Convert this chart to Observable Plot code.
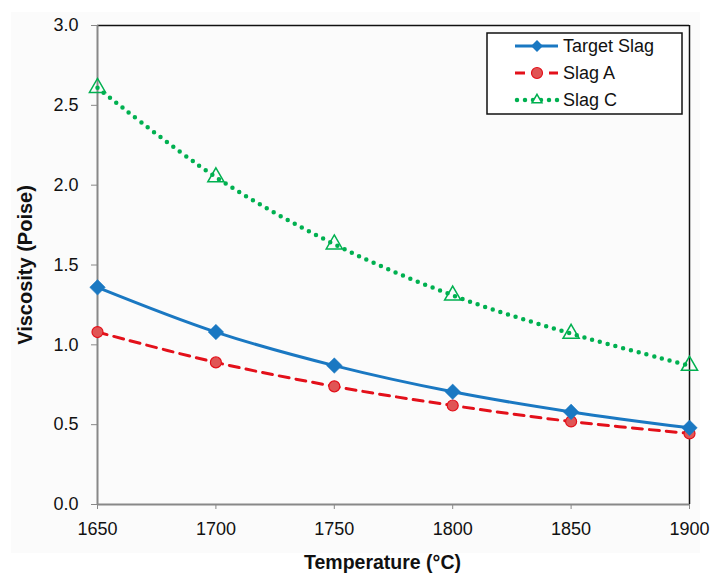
<!DOCTYPE html>
<html><head><meta charset="utf-8">
<script src="https://cdn.jsdelivr.net/npm/d3@7"></script>
<script src="https://cdn.jsdelivr.net/npm/@observablehq/plot@0.6"></script>
<style>
body{margin:0;background:#fff;}
#chart{position:relative;width:712px;height:573px;}
</style>
</head><body><div id="chart"></div>
<script>
const temperatures = [1650, 1700, 1750, 1800, 1850, 1900];
const targetSlag = [1.36, 1.08, 0.87, 0.706, 0.58, 0.48];
const slagA = [1.08, 0.89, 0.74, 0.62, 0.52, 0.445];
const slagC = [2.61, 2.05, 1.63, 1.31, 1.07, 0.87];
const seriesNames = ["Target Slag", "Slag A", "Slag C"];
const yTicks = [0, 0.5, 1.0, 1.5, 2.0, 2.5, 3.0];
const xTicks = [1650, 1700, 1750, 1800, 1850, 1900];

const rows = (vals) => temperatures.map((t, i) => ({t, v: vals[i]}));
const tData = rows(targetSlag), aData = rows(slagA), cData = rows(slagC);

const blue = "#1a78c2", red = "#e3101a", green = "#00b050";
const font = "'Liberation Sans', Arial, sans-serif";

const plot = Plot.plot({
  width: 712, height: 573,
  marginLeft: 97, marginRight: 23, marginTop: 25, marginBottom: 69,
  style: {fontFamily: font, fontSize: "18px", color: "#111", background: "#fff"},
  x: {domain: [1650, 1900], ticks: xTicks, label: null, tickFormat: d3.format("d")},
  y: {domain: [0, 3], ticks: yTicks, label: null, tickFormat: d3.format(".1f")},
  marks: [
    Plot.axisX({ticks: xTicks, tickSize: 5, stroke: "#888", tickPadding: 13, fontSize: 18, label: null, tickFormat: d3.format("d")}),
    Plot.axisY({ticks: yTicks, tickSize: 6, stroke: "#888", tickPadding: 13, fontSize: 18, label: null, tickFormat: d3.format(".1f")}),
    Plot.ruleY([3], {stroke: "#111", strokeWidth: 1.5}),
    Plot.ruleX([1900], {stroke: "#111", strokeWidth: 1.5}),
    Plot.ruleX([1650], {stroke: "#888", strokeWidth: 2}),
    Plot.ruleY([0], {stroke: "#888", strokeWidth: 2}),
    Plot.line(cData, {x: "t", y: "v", stroke: green, strokeWidth: 4.5, strokeDasharray: "0 8", strokeLinecap: "round", curve: "catmull-rom"}),
    Plot.line(aData, {x: "t", y: "v", stroke: red, strokeWidth: 3, strokeDasharray: "10 7", curve: "catmull-rom"}),
    Plot.line(tData, {x: "t", y: "v", stroke: blue, strokeWidth: 3, curve: "catmull-rom"}),
    Plot.dot(cData, {x: "t", y: "v", symbol: "triangle", r: 6, stroke: green, fill: "white", fillOpacity: 0, strokeWidth: 1.5}),
    Plot.dot(aData, {x: "t", y: "v", symbol: "circle", r: 5.5, stroke: red, fill: "#e05555", strokeWidth: 1.2}),
    Plot.dot(tData, {x: "t", y: "v", symbol: "diamond2", r: 7, fill: blue, stroke: blue, strokeWidth: 0.5}),
    Plot.text(["Viscosity (Poise)"], {frameAnchor: "left", dx: -72, rotate: -90, lineAnchor: "middle", textAnchor: "middle", fontWeight: "bold", fontSize: 20, fill: "#111", text: d => d}),
    Plot.text(["Temperature (°C)"], {frameAnchor: "bottom", dx: -11, dy: 58, lineAnchor: "middle", textAnchor: "middle", fontWeight: "bold", fontSize: 19.5, fill: "#111", text: d => d})
  ]
});
document.getElementById("chart").appendChild(plot);

const svg = d3.select(plot);
// enforce tick label size
svg.selectAll("g[aria-label='x-axis tick label'], g[aria-label='y-axis tick label']").attr("font-size", 18).style("font-size", "18px");
svg.selectAll("g[aria-label='x-axis tick label'] text, g[aria-label='y-axis tick label'] text").style("font-size", "18px");
// faint chart-area background
svg.insert("rect", ":first-child").attr("x", 11).attr("y", 12).attr("width", 689).attr("height", 541).attr("fill", "#fbfbfb");

// Legend
const lg = svg.append("g").attr("font-family", font).attr("font-size", 18).attr("text-anchor", "start");
lg.append("rect").attr("x", 487).attr("y", 33).attr("width", 195).attr("height", 81)
  .attr("fill", "white").attr("stroke", "#111").attr("stroke-width", 1.5);
const items = [
  {name: seriesNames[0], color: blue, dash: null, w: 3, sym: "diamond"},
  {name: seriesNames[1], color: red, dash: "10 7", w: 3, sym: "circle"},
  {name: seriesNames[2], color: green, dash: "0 8", w: 4.5, sym: "triangle"}
];
items.forEach((it, i) => {
  const y = 46 + i * 27;
  const line = lg.append("line").attr("x1", 515).attr("x2", 558).attr("y1", y).attr("y2", y)
    .attr("stroke", it.color).attr("stroke-width", it.w);
  if (it.dash) line.attr("stroke-dasharray", it.dash);
  if (it.sym === "triangle") line.attr("stroke-linecap", "round").attr("x1", 517);
  const cx = 537;
  if (it.sym === "diamond") {
    lg.append("path").attr("d", d3.symbol(d3.symbolDiamond2, 90)()).attr("transform", `translate(${cx},${y})`).attr("fill", it.color);
  } else if (it.sym === "circle") {
    lg.append("circle").attr("cx", cx).attr("cy", y).attr("r", 5.5).attr("fill", "#e05555").attr("stroke", it.color).attr("stroke-width", 1.2);
  } else {
    lg.append("path").attr("d", d3.symbol(d3.symbolTriangle2, 70)()).attr("transform", `translate(${cx},${y})`).attr("fill", "white").attr("stroke", it.color).attr("stroke-width", 1.5);
  }
  lg.append("text").attr("x", 563).attr("y", y).attr("dy", "0.35em").attr("fill", "#111").text(it.name);
});
</script>
</body></html>
